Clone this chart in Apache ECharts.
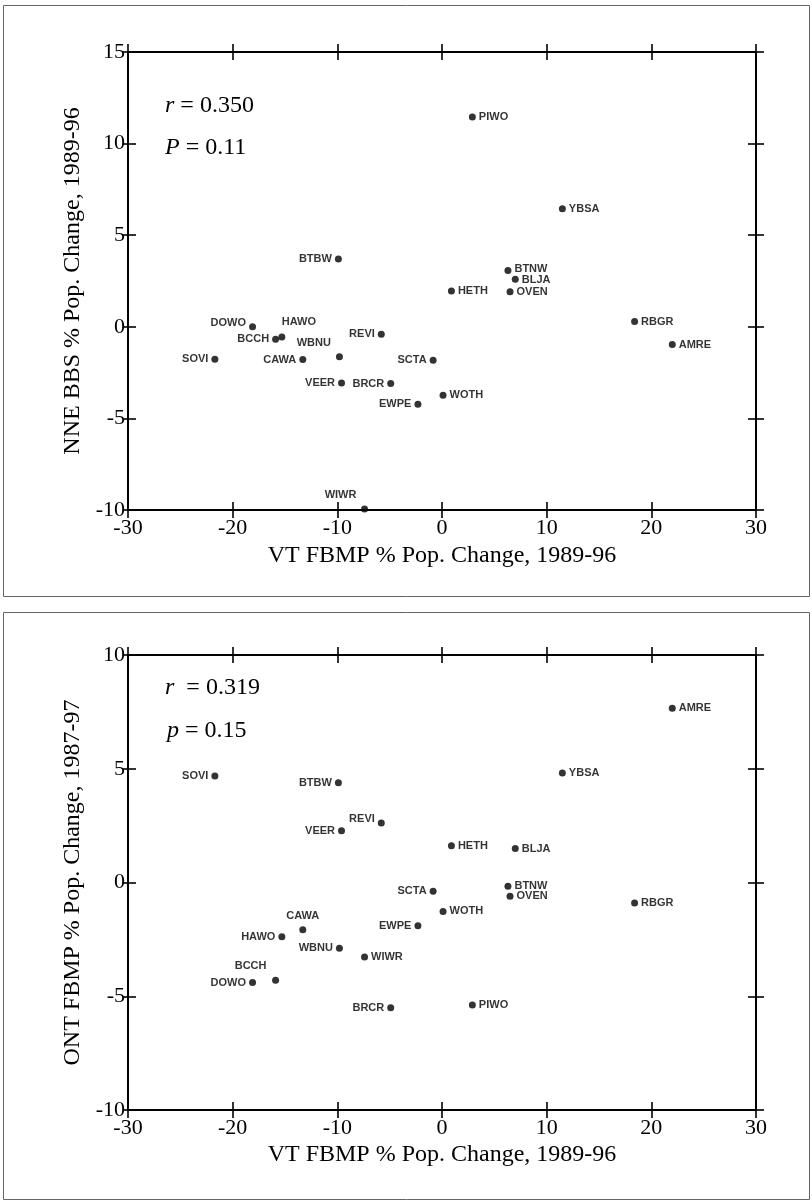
<!DOCTYPE html>
<html>
<head>
<meta charset="utf-8">
<script src="https://cdn.jsdelivr.net/npm/echarts@6/dist/echarts.min.js"></script>
<style>
  html, body { margin: 0; padding: 0; background: #fff; }
  #chart { width: 812px; height: 1201px; }
</style>
</head>
<body>
<div id="chart"></div>
<script>
// ---- Data ----
const species = ['PIWO','YBSA','BTBW','BTNW','BLJA','HETH','OVEN','DOWO','HAWO','BCCH','REVI','WBNU','SOVI','CAWA','SCTA','VEER','BRCR','WOTH','EWPE','RBGR','AMRE','WIWR'];
const vtChange  = [2.9, 11.5, -9.9, 6.3, 7.0, 0.9, 6.5, -18.1, -15.3, -15.9, -5.8, -9.8, -21.7, -13.3, -0.85, -9.6, -4.9, 0.1, -2.3, 18.4, 22.0, -7.4];
const nneChange = [11.45, 6.45, 3.7, 3.07, 2.6, 1.95, 1.92, 0.0, -0.55, -0.68, -0.40, -1.64, -1.77, -1.79, -1.82, -3.07, -3.10, -3.74, -4.23, 0.29, -0.97, -9.95];
const ontChange = [-5.39, 4.81, 4.39, -0.16, 1.49, 1.62, -0.60, -4.40, -2.39, -4.30, 2.62, -2.89, 4.68, -2.08, -0.39, 2.27, -5.51, -1.27, -1.90, -0.90, 7.66, -3.28];
const xTicks = [-30, -20, -10, 0, 10, 20, 30];
const yTicksTop = [-10, -5, 0, 5, 10, 15];
const yTicksBottom = [-10, -5, 0, 5, 10];
const statsTop = { r: '0.350', P: '0.11' };
const statsBottom = { r: '0.319', P: '0.15' };
const xTitle = 'VT FBMP % Pop. Change, 1989-96';
const yTitleTop = 'NNE BBS % Pop. Change, 1989-96';
const yTitleBottom = 'ONT FBMP % Pop. Change, 1987-97';

// ---- Label placement (style only) ----
const leftTop = ['BTBW','DOWO','BCCH','REVI','SOVI','CAWA','SCTA','VEER','BRCR','EWPE','WBNU'];
const specialTop = {
  HAWO: { position: 'top', offset: [17, -3] },
  WBNU: { position: 'left', offset: [-2, -14] },
  WIWR: { position: 'top', offset: [-24, -2] },
  DOWO: { position: 'left', offset: [0, -4] },
  BTNW: { position: 'right', offset: [0, -2] },
  BLJA: { position: 'right', offset: [0, 1] }
};
const leftBottom = ['SOVI','BTBW','VEER','REVI','SCTA','EWPE','HAWO','WBNU','DOWO','BRCR'];
const specialBottom = {
  REVI: { position: 'left', offset: [0, -4] },
  CAWA: { position: 'top', offset: [0, -2] },
  BCCH: { position: 'top', offset: [-25, -2] }
};

function buildData(ys, leftSet, special) {
  return species.map((n, i) => {
    const pl = special[n] || { position: leftSet.includes(n) ? 'left' : 'right', offset: [0, 0] };
    return { name: n, value: [vtChange[i], ys[i]], label: { position: pl.position, offset: pl.offset } };
  });
}

const SERIF = '"Liberation Serif", "Times New Roman", serif';
const axisLineStyle = { color: '#000', width: 2 };
const tickStyle = { color: '#000', width: 1.6 };

function xAxes(grid, withName, nameGap) {
  const base = { type: 'value', gridIndex: grid, min: xTicks[0], max: xTicks[xTicks.length - 1], interval: 10, splitLine: { show: false } };
  return [
    Object.assign({}, base, {
      position: 'bottom',
      axisLine: { show: true, onZero: false, lineStyle: axisLineStyle },
      axisTick: { show: true, inside: false, length: 8, lineStyle: tickStyle },
      axisLabel: { show: true, margin: 7, color: '#000', fontFamily: SERIF, fontSize: 22 },
      name: withName, nameLocation: 'middle', nameGap: nameGap,
      nameTextStyle: { color: '#000', fontFamily: SERIF, fontSize: 24 }
    }),
    Object.assign({}, base, {
      position: 'bottom',
      axisLine: { show: false, onZero: false },
      axisTick: { show: true, inside: true, length: 8, lineStyle: tickStyle },
      axisLabel: { show: false }
    }),
    Object.assign({}, base, {
      position: 'top',
      axisLine: { show: true, onZero: false, lineStyle: axisLineStyle },
      axisTick: { show: true, inside: false, length: 8, lineStyle: tickStyle },
      axisLabel: { show: false }
    }),
    Object.assign({}, base, {
      position: 'top',
      axisLine: { show: false, onZero: false },
      axisTick: { show: true, inside: true, length: 8, lineStyle: tickStyle },
      axisLabel: { show: false }
    })
  ];
}

function yAxes(grid, ticks, withName) {
  const base = { type: 'value', gridIndex: grid, min: ticks[0], max: ticks[ticks.length - 1], interval: 5, splitLine: { show: false } };
  return [
    Object.assign({}, base, {
      position: 'left',
      axisLine: { show: true, onZero: false, lineStyle: axisLineStyle },
      axisTick: { show: true, inside: false, length: 5, lineStyle: tickStyle },
      axisLabel: { show: true, margin: 3, color: '#000', fontFamily: SERIF, fontSize: 22 },
      name: withName, nameLocation: 'middle', nameGap: 40,
      nameTextStyle: { color: '#000', fontFamily: SERIF, fontSize: 24 }
    }),
    Object.assign({}, base, {
      position: 'left',
      axisLine: { show: false, onZero: false },
      axisTick: { show: true, inside: true, length: 8, lineStyle: tickStyle },
      axisLabel: { show: false }
    }),
    Object.assign({}, base, {
      position: 'right',
      axisLine: { show: true, onZero: false, lineStyle: axisLineStyle },
      axisTick: { show: true, inside: false, length: 8, lineStyle: tickStyle },
      axisLabel: { show: false }
    }),
    Object.assign({}, base, {
      position: 'right',
      axisLine: { show: false, onZero: false },
      axisTick: { show: true, inside: true, length: 8, lineStyle: tickStyle },
      axisLabel: { show: false }
    })
  ];
}

function scatter(xi, yi, data) {
  return {
    type: 'scatter', xAxisIndex: xi, yAxisIndex: yi, data: data,
    symbol: 'circle', symbolSize: 7,
    itemStyle: { color: '#000' },
    label: {
      show: true, formatter: '{b}', distance: 3,
      color: '#000', fontFamily: '"Liberation Sans", Arial, sans-serif', fontWeight: 'bold', fontSize: 11
    },
    emphasis: { disabled: true },
    silent: true
  };
}

function statText(x, y, letter, val) {
  return {
    type: 'text', left: x, top: y,
    style: {
      text: '{i|' + letter + '} = ' + val,
      fill: '#000', font: '24px ' + SERIF,
      rich: { i: { fontStyle: 'italic', fontFamily: SERIF, fontSize: 24, fill: '#000' } }
    }
  };
}

const chart = echarts.init(document.getElementById('chart'), null, { renderer: 'canvas' });
chart.setOption({
  animation: false,
  backgroundColor: '#fff',
  grid: [
    { left: 128, top: 52, width: 628, height: 458 },
    { left: 128, top: 655, width: 628, height: 455 }
  ],
  xAxis: xAxes(0, xTitle, 34).concat(xAxes(1, xTitle, 33)),
  yAxis: yAxes(0, yTicksTop, yTitleTop).concat(yAxes(1, yTicksBottom, yTitleBottom)),
  series: [
    scatter(0, 0, buildData(nneChange, leftTop, specialTop)),
    scatter(4, 4, buildData(ontChange, leftBottom, specialBottom))
  ],
  graphic: [
    { type: 'rect', shape: { x: 3.5, y: 5.5, width: 806, height: 591 }, style: { fill: 'none', stroke: '#666', lineWidth: 1 }, silent: true },
    { type: 'rect', shape: { x: 3.5, y: 612.5, width: 806, height: 587 }, style: { fill: 'none', stroke: '#666', lineWidth: 1 }, silent: true },
    statText(165, 94, 'r', statsTop.r),
    statText(165, 136, 'P', statsTop.P),
    statText(165, 676, 'r ', statsBottom.r),
    statText(167, 719, 'p', statsBottom.P)
  ]
});
</script>
</body>
</html>
